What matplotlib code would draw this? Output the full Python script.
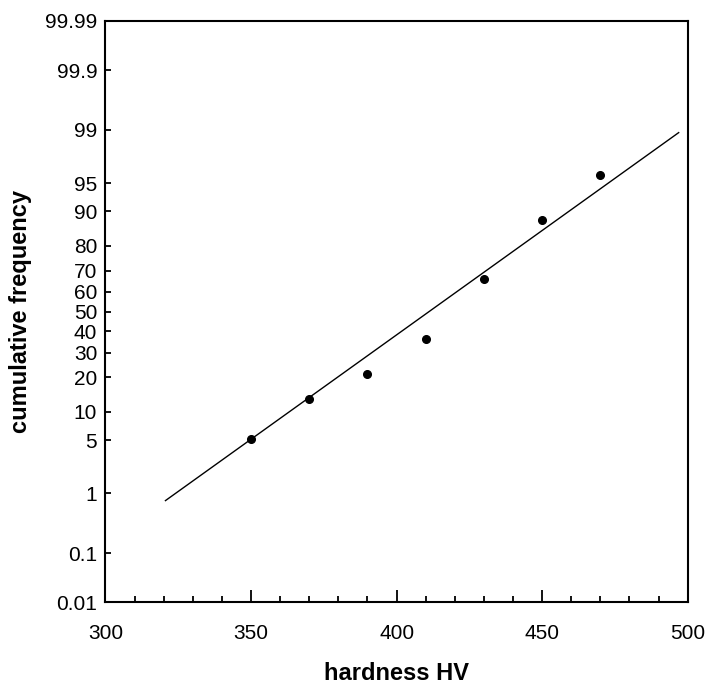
import numpy as np
import matplotlib
matplotlib.use("Agg")
import matplotlib.pyplot as plt
from matplotlib.ticker import FixedLocator, MultipleLocator
from statistics import NormalDist
from math import erf, sqrt

# data
hardness = [350, 370, 390, 410, 430, 450, 470]
cum_freq = [5.1, 13.2, 21.3, 36.2, 66.1, 87.9, 96.0]

fit_hardness = [320.6, 496.9]
fit_freq = [0.78, 98.9]

y_ticks = [0.01, 0.1, 1, 5, 10, 20, 30, 40, 50, 60, 70, 80, 90, 95, 99, 99.9, 99.99]
y_ticklabels = ["0.01", "0.1", "1", "5", "10", "20", "30", "40", "50", "60",
                "70", "80", "90", "95", "99", "99.9", "99.99"]
x_ticks = [300, 350, 400, 450, 500]

_nd = NormalDist()
_ppf = np.vectorize(lambda p: _nd.inv_cdf(min(max(p / 100.0, 1e-12), 1 - 1e-12)),
                    otypes=[float])
_cdf = np.vectorize(lambda z: 50.0 * (1 + erf(z / sqrt(2))), otypes=[float])


def probit(p):
    return _ppf(np.asarray(p, dtype=float))


def inv_probit(z):
    return _cdf(np.asarray(z, dtype=float))


plt.rcParams['font.family'] = ['Liberation Sans', 'DejaVu Sans']

fig = plt.figure(figsize=(7.07, 6.83), dpi=100)
ax = fig.add_axes([0.1492, 0.1182, 0.8235, 0.8511])

# probability (probit) scale on y
ax.set_yscale('function', functions=(probit, inv_probit))
ax.set_ylim(0.01, 99.99)
ax.set_xlim(300, 500)

ax.plot(fit_hardness, fit_freq, color='black', linewidth=1.0)
ax.plot(hardness, cum_freq, 'o', color='black', markersize=5.5)

ax.yaxis.set_major_locator(FixedLocator(y_ticks))
ax.set_yticklabels(y_ticklabels)
ax.yaxis.set_minor_locator(FixedLocator([]))
ax.xaxis.set_major_locator(FixedLocator(x_ticks))
ax.xaxis.set_minor_locator(MultipleLocator(10))

ax.tick_params(axis='y', which='major', direction='in', length=4.5, width=1.3,
               labelsize=15, pad=6)
ax.tick_params(axis='x', which='major', direction='in', length=9, width=1.3,
               labelsize=15, pad=16)
ax.tick_params(axis='x', which='minor', direction='in', length=4.5, width=1.3)

for s in ax.spines.values():
    s.set_linewidth(1.5)

ax.set_xlabel('hardness HV', fontsize=17, fontweight='bold', labelpad=13)
ax.set_ylabel('cumulative frequency', fontsize=17, fontweight='bold')
ax.yaxis.set_label_coords(-0.126, 0.5)

fig.savefig('out.png', dpi=100)
